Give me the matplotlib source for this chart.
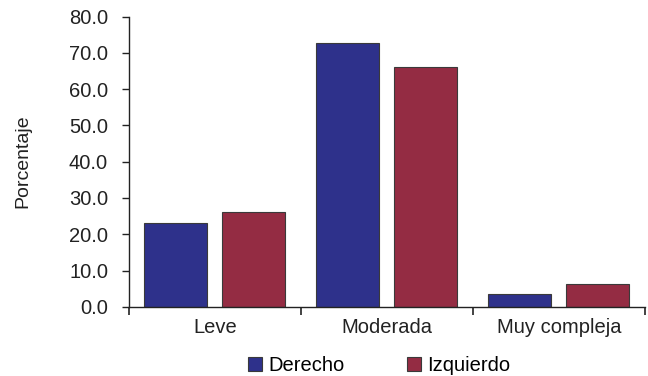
import numpy as np
import matplotlib.pyplot as plt
from matplotlib.ticker import FixedLocator

plt.rcParams['font.family'] = ['Liberation Sans', 'DejaVu Sans']

categorias = ['Leve', 'Moderada', 'Muy compleja']
derecho = [23.2, 72.6, 3.4]
izquierdo = [26.2, 66.2, 6.4]
series = ['Derecho', 'Izquierdo']

fig = plt.figure(figsize=(6.48, 3.76), dpi=100)
ax = fig.add_axes([0.199, 0.184, 0.796, 0.772])

x = np.arange(len(categorias))
w = 0.366
off = 0.227
ax.bar(x - off, derecho, w, color='#2E318B', edgecolor='#3a3a3a', linewidth=0.8, label=series[0])
ax.bar(x + off, izquierdo, w, color='#942C43', edgecolor='#3a3a3a', linewidth=0.8, label=series[1])

ax.set_xlim(-0.5, 2.5)
ax.set_ylim(0, 80)
ax.set_yticks(np.arange(0, 81, 10))
ax.set_yticklabels(['%.1f' % v for v in np.arange(0, 81, 10)])
ax.set_xticks(x)
ax.set_xticklabels(categorias)
ax.xaxis.set_minor_locator(FixedLocator([-0.5, 0.5, 1.5, 2.5]))
ax.tick_params(axis='x', which='major', length=0, pad=8, labelsize=14.5, colors='#222222')
ax.tick_params(axis='x', which='minor', length=6, width=1.2, direction='out', color='#222222')
ax.tick_params(axis='y', length=5, width=1, direction='out', labelsize=14.5, colors='#222222', pad=10)

for s in ['top', 'right']:
    ax.spines[s].set_visible(False)
for s in ['left', 'bottom']:
    ax.spines[s].set_color('#222222')
    ax.spines[s].set_linewidth(1)

ax.set_ylabel('Porcentaje', fontsize=14, color='#222222', labelpad=27)

fig.legend(loc='lower center', bbox_to_anchor=(0.585, -0.045), ncol=2, frameon=False,
           fontsize=14.5, handlelength=0.7, handleheight=0.7, handletextpad=0.3,
           columnspacing=3.1)

fig.savefig('out.png', dpi=100)
